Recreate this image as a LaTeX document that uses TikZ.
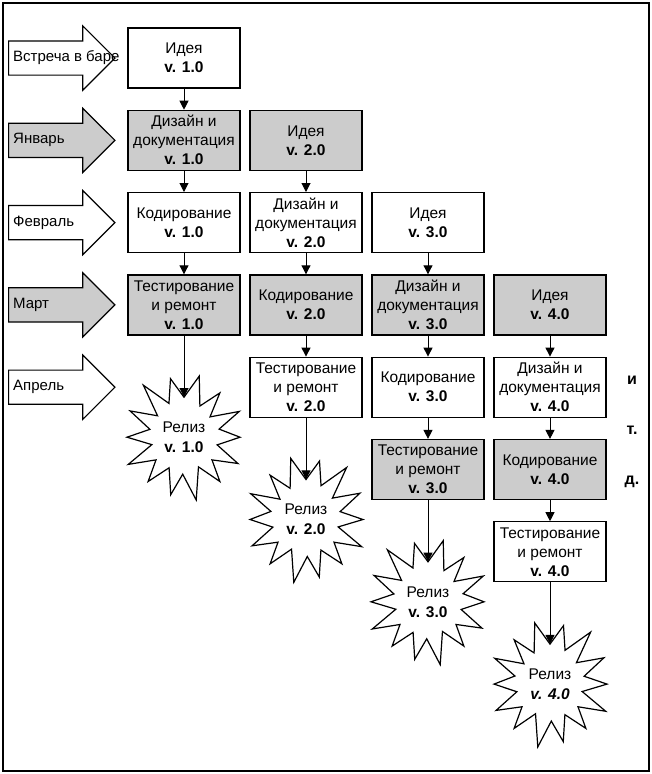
\documentclass[tikz,border=0pt]{standalone}
\usepackage{fontspec}
\setmainfont{Liberation Sans}
\usetikzlibrary{shapes.arrows,arrows.meta}
\newcommand{\boxwidth}{112pt}
\newcommand{\boxheight}{60pt}
\newcommand{\colone}{184}
\newcommand{\coltwo}{306}
\newcommand{\colthree}{428}
\newcommand{\colfour}{550}
\newcommand{\rowone}{58}
\newcommand{\rowtwo}{140.3}
\newcommand{\rowthree}{222.6}
\newcommand{\rowfour}{304.9}
\newcommand{\rowfive}{387.2}
\newcommand{\rowsix}{469.5}
\newcommand{\rowseven}{551.8}
\newcommand{\roweight}{634.1}
\newcommand{\stardrop}{50}
\newcommand{\monthx}{8}
% star outline round a centre: #1 x, #2 y, #3 mirror (1 or -1)
\newcommand{\burst}[3]{%
  \draw[line width=1.2pt,fill=white,shift={(#1,#2)},xscale=#3]
    (0:56) -- (13:34) -- (26:60) -- (39:36) -- (51:57) -- (64:33)
    -- (79:64) -- (92:37) -- (103:59) -- (116:34) -- (129:57) -- (141:36)
    -- (154:62) -- (167:33) -- (180:57) -- (193:35) -- (206:60) -- (219:34)
    -- (232:66) -- (246:37) -- (257:60) -- (270:40) -- (284:63) -- (297:35)
    -- (309:57) -- (322:33) -- (335:61) -- (347:36) -- cycle;}

\begin{document}
\begin{tikzpicture}[x=1pt,y=-1pt]
\tikzstyle{stage}=[draw,line width=1.2pt,minimum width=\boxwidth,minimum height=\boxheight,align=center,inner sep=2pt,font=\fontsize{15.5}{19}\selectfont]
\tikzstyle{shaded}=[stage,fill=black!20]
\tikzstyle{month}=[single arrow,draw,line width=1.2pt,single arrow head extend=15pt,single arrow tip angle=90,inner xsep=4pt,inner ysep=9pt,text height=11pt,text depth=4pt,anchor=west,font=\fontsize{15}{18}\selectfont]
\tikzstyle{release}=[circle,minimum size=80pt,inner sep=0pt,align=center,font=\fontsize{15.5}{20}\selectfont]
\tikzstyle{flow}=[line width=1pt,-{Triangle[length=9pt,width=9pt]}]

\useasboundingbox (0,0) rectangle (652,774);
\draw[line width=1.5pt] (3,3) rectangle (649,771);

%% months
\node (bar) [month] at (\monthx,\rowone) {\makebox[80pt][l]{Встреча в баре}};
\node (jan) [month,fill=black!20] at (\monthx,\rowtwo) {\makebox[80pt][l]{Январь}};
\node (feb) [month] at (\monthx,\rowthree) {\makebox[80pt][l]{Февраль}};
\node (mar) [month,fill=black!20] at (\monthx,\rowfour) {\makebox[80pt][l]{Март}};
\node (apr) [month] at (\monthx,\rowfive) {\makebox[80pt][l]{Апрель}};

%% release stars
\burst{\colone}{\rowfive+\stardrop}{1}
\burst{\coltwo}{\rowsix+\stardrop}{-1}
\burst{\colthree}{\rowseven+\stardrop}{1}
\burst{\colfour}{\roweight+\stardrop}{-1}

%% version 1.0
\node (idea1)   [stage]  at (\colone,\rowone) {Идея\\\textbf{v. 1.0}};
\node (design1) [shaded] at (\colone,\rowtwo) {Дизайн и\\документация\\\textbf{v. 1.0}};
\node (code1)   [stage]  at (\colone,\rowthree) {Кодирование\\\textbf{v. 1.0}};
\node (test1)   [shaded] at (\colone,\rowfour) {Тестирование\\и ремонт\\\textbf{v. 1.0}};
\node (rel1)    [release] at (\colone,\rowfive+\stardrop) {Релиз\\\textbf{v. 1.0}};

%% version 2.0
\node (idea2)   [shaded] at (\coltwo,\rowtwo) {Идея\\\textbf{v. 2.0}};
\node (design2) [stage]  at (\coltwo,\rowthree) {Дизайн и\\документация\\\textbf{v. 2.0}};
\node (code2)   [shaded] at (\coltwo,\rowfour) {Кодирование\\\textbf{v. 2.0}};
\node (test2)   [stage]  at (\coltwo,\rowfive) {Тестирование\\и ремонт\\\textbf{v. 2.0}};
\node (rel2)    [release] at (\coltwo,\rowsix+\stardrop) {Релиз\\\textbf{v. 2.0}};

%% version 3.0
\node (idea3)   [stage]  at (\colthree,\rowthree) {Идея\\\textbf{v. 3.0}};
\node (design3) [shaded] at (\colthree,\rowfour) {Дизайн и\\документация\\\textbf{v. 3.0}};
\node (code3)   [stage]  at (\colthree,\rowfive) {Кодирование\\\textbf{v. 3.0}};
\node (test3)   [shaded] at (\colthree,\rowsix) {Тестирование\\и ремонт\\\textbf{v. 3.0}};
\node (rel3)    [release] at (\colthree,\rowseven+\stardrop) {Релиз\\\textbf{v. 3.0}};

%% version 4.0
\node (idea4)   [shaded] at (\colfour,\rowfour) {Идея\\\textbf{v. 4.0}};
\node (design4) [stage]  at (\colfour,\rowfive) {Дизайн и\\документация\\\textbf{v. 4.0}};
\node (code4)   [shaded] at (\colfour,\rowsix) {Кодирование\\\textbf{v. 4.0}};
\node (test4)   [stage]  at (\colfour,\rowseven) {Тестирование\\и ремонт\\\textbf{v. 4.0}};
\node (rel4)    [release] at (\colfour,\roweight+\stardrop) {Релиз\\\textbf{\textit{v. 4.0}}};

%% flow arrows
\draw[flow] (idea1) -- (design1);
\draw[flow] (design1) -- (code1);
\draw[flow] (code1) -- (test1);
\draw[flow] (test1) -- (rel1);
\draw[flow] (idea2) -- (design2);
\draw[flow] (design2) -- (code2);
\draw[flow] (code2) -- (test2);
\draw[flow] (test2) -- (rel2);
\draw[flow] (idea3) -- (design3);
\draw[flow] (design3) -- (code3);
\draw[flow] (code3) -- (test3);
\draw[flow] (test3) -- (rel3);
\draw[flow] (idea4) -- (design4);
\draw[flow] (design4) -- (code4);
\draw[flow] (code4) -- (test4);
\draw[flow] (test4) -- (rel4);

%% and so on
\node (etc) [align=center,font=\bfseries\fontsize{16}{50}\selectfont] at (632,432) {и\\т.\\д.};

\end{tikzpicture}
\end{document}
